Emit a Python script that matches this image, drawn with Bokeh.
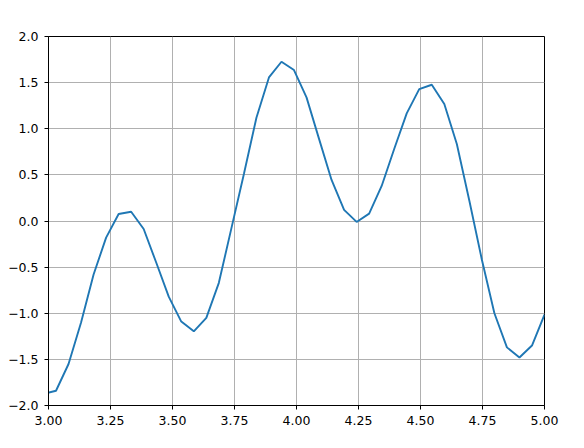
from bokeh.plotting import figure
from bokeh.models import Range1d, FixedTicker
from bokeh.embed import file_html
from bokeh.resources import INLINE

# data
x_vals = [2.9798, 3.0303, 3.0808, 3.1313, 3.1818, 3.2323, 3.2828, 3.3333, 3.3838,
          3.4343, 3.4848, 3.5354, 3.5859, 3.6364, 3.6869, 3.7374, 3.7879, 3.8384,
          3.8889, 3.9394, 3.9899, 4.0404, 4.0909, 4.1414, 4.1919, 4.2424, 4.2929,
          4.3434, 4.3939, 4.4444, 4.4949, 4.5455, 4.5960, 4.6465, 4.6970, 4.7475,
          4.7980, 4.8485, 4.8990, 4.9495, 5.0000]
y_vals = [-1.873, -1.84, -1.55, -1.10, -0.58, -0.18, 0.076, 0.10, -0.087,
          -0.45, -0.82, -1.09, -1.196, -1.05, -0.67, -0.08, 0.51, 1.12,
          1.556, 1.726, 1.636, 1.34, 0.89, 0.445, 0.12, -0.01, 0.08,
          0.38, 0.78, 1.166, 1.43, 1.477, 1.268, 0.834, 0.22, -0.42,
          -1.0, -1.37, -1.48, -1.35, -1.015]

x_ticks = [3.0, 3.25, 3.5, 3.75, 4.0, 4.25, 4.5, 4.75, 5.0]
x_tick_labels = ["3.00", "3.25", "3.50", "3.75", "4.00", "4.25", "4.50", "4.75", "5.00"]
y_ticks = [-2.0, -1.5, -1.0, -0.5, 0.0, 0.5, 1.0, 1.5, 2.0]
y_tick_labels = ["\u22122.0", "\u22121.5", "\u22121.0", "\u22120.5", "0.0", "0.5", "1.0", "1.5", "2.0"]

p = figure(width=584, height=448, output_backend="svg", toolbar_location=None,
           x_range=Range1d(3.0, 5.0), y_range=Range1d(-2.0, 2.0),
           min_border_left=48, min_border_right=40, min_border_top=36, min_border_bottom=43)
p.background_fill_color = "white"
p.border_fill_color = "white"
p.outline_line_color = "black"
p.outline_line_width = 1
p.outline_line_alpha = 1.0

p.line(x_vals, y_vals, line_color="#1f77b4", line_width=1.9)

p.xaxis.ticker = FixedTicker(ticks=x_ticks)
p.yaxis.ticker = FixedTicker(ticks=y_ticks)
p.xaxis.major_label_overrides = dict(zip(x_ticks, x_tick_labels))
p.yaxis.major_label_overrides = dict(zip(y_ticks, y_tick_labels))

for ax in (p.xaxis, p.yaxis):
    ax.axis_line_color = "black"
    ax.axis_line_width = 1
    ax.major_tick_line_color = "black"
    ax.major_tick_line_width = 1
    ax.major_tick_out = 4
    ax.major_tick_in = 0
    ax.minor_tick_line_color = None
    ax.major_label_text_font = "DejaVu Sans"
    ax.major_label_text_font_size = "12.5px"
    ax.major_label_text_color = "black"
p.xaxis.major_label_standoff = 6
p.yaxis.major_label_standoff = 6

p.xgrid.ticker = FixedTicker(ticks=x_ticks)
p.ygrid.ticker = FixedTicker(ticks=y_ticks)
p.grid.grid_line_color = "#b0b0b0"
p.grid.grid_line_width = 1

open("out.html", "w").write(file_html(p, INLINE))
